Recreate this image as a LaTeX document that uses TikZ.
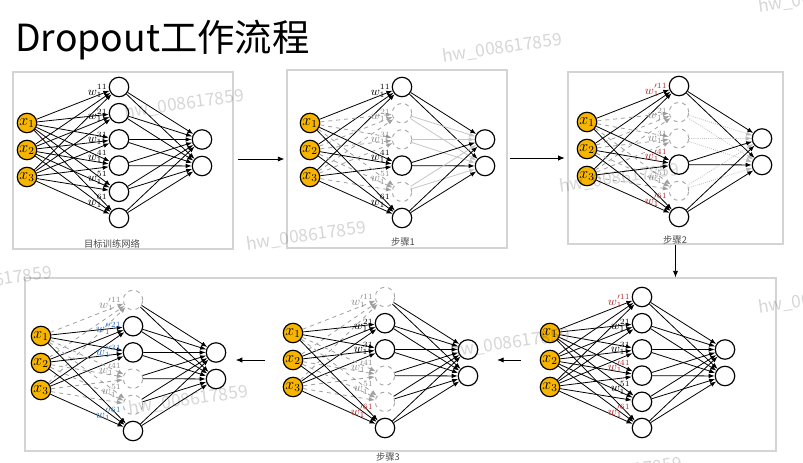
\documentclass[tikz,border=0pt]{standalone}
\usepackage{fontspec}
\newfontfamily\cjk{Noto Sans CJK SC}
\usetikzlibrary{arrows.meta,calc,fit}
\definecolor{Gold}{HTML}{F7B500}
\definecolor{WRed}{HTML}{B22A2A}
\definecolor{WBlue}{HTML}{2B73B8}
\definecolor{WGray}{HTML}{8C8C8C}
\definecolor{Frame}{HTML}{D4D4D4}

\tikzset{
  unit/.style={circle,draw,line width=0.9pt,minimum size=14.6pt,inner sep=0pt,fill=white},
  inp/.style={unit,fill=Gold},
  hid/.style={unit},
  outp/.style={unit},
  h live/.style={},
  h drop/.style={draw=gray!70,dashed,line width=0.7pt},
  h fade/.style={h drop},
  h mute/.style={h drop},
  wire/.style={line width=0.6pt,-{Latex[length=4.5pt,width=3.4pt]}},
  in live/.style={wire},
  in drop/.style={wire,gray!75,dashed},
  in fade/.style={in drop},
  in mute/.style={in drop},
  out live/.style={wire},
  out drop/.style={wire,gray!45},
  out fade/.style={wire,gray!55,densely dotted},
  out mute/.style={wire},
  wlab/.style={font=\small,inner sep=0pt,anchor=east},
  panel/.style={draw=Frame,line width=0.8pt,inner sep=0pt},
  flow/.style={line width=0.7pt,-{Latex[length=5pt,width=4pt]}},
  steptext/.style={font=\cjk\fontsize{7}{8}\selectfont,text=black!70,inner sep=0pt},
  wmark/.style={font=\cjk\fontsize{13}{13}\selectfont,text=black,text opacity=0.16,rotate=8,inner sep=0pt}
}

% #1 name, #2 hidden x, #3 top hidden y, #4 hidden states, #5 weight labels
\newcommand{\netpanel}[5]{%
  \foreach \j/\s in {#4}
    \node[hid,h \s] (#1h\j) at (#2,{#3+26.2*(\j-1)}) {};
  \foreach \i/\dy in {1/36,2/63,3/90}
    \node[inp,label={[font=\large]center:$x_\i$}] (#1x\i) at (#2-92,#3+\dy) {};
  \foreach \k/\dy in {1/52.5,2/79}
    \node[outp] (#1o\k) at (#2+83,#3+\dy) {};
  \foreach \j/\s in {#4}{
    \foreach \i in {1,2,3} \draw[in \s] (#1x\i) -- (#1h\j);
    \foreach \k in {1,2} \draw[out \s] (#1h\j) -- (#1o\k);
  }
  \foreach \j/\t/\c in {#5}{
    \pgfmathsetmacro\dy{{4,2,-1,-9,-14,-17}[\j-1]}
    \node[wlab,text=\c] (#1w\j) at ($(#1h\j.west)+(-1,\dy)$) {$\t$};
  }
}

\begin{document}
\begin{tikzpicture}[x=0.75pt,y=-0.75pt]
\useasboundingbox (0,0) rectangle (803,463);
\clip (0,0) rectangle (803,463);
\fill[white] (0,0) rectangle (803,463);

\node[anchor=base west,font=\cjk\fontsize{28}{30}\selectfont,inner sep=0pt] (title) at (15,52) {Dropout工作流程};

% frames
\node[panel,fit={(13,72) (233,249)}] (b1) {};
\node[panel,fit={(287,70) (507,248)}] (b2) {};
\node[panel,fit={(568,72) (783,244)}] (b3) {};
\node[panel,fit={(25,278) (776,451)}] (b4) {};

% target network
\netpanel{p1}{119}{87}{1/live,2/live,3/live,4/live,5/live,6/live}
  {1/w^{11}_1/black,2/w^{21}_1/black,3/w^{31}_1/black,4/w^{41}_1/black,5/w^{51}_1/black,6/w^{61}_1/black}
\node[steptext] (s0) at (112,244) {目标训练网络};

% step 1
\netpanel{p2}{402}{87}{1/live,2/drop,3/drop,4/live,5/drop,6/live}
  {1/w^{11}_1/black,2/w^{21}_1/WGray,3/w^{31}_1/WGray,4/w^{41}_1/black,5/w^{51}_1/WGray,6/w^{61}_1/black}
\node[steptext] (s1) at (403,242) {步骤1};

% step 2
\netpanel{p3}{679}{86}{1/live,2/fade,3/fade,4/live,5/fade,6/live}
  {1/w'^{11}_1/WRed,2/w^{21}_1/WGray,3/w^{31}_1/WGray,4/w'^{41}_1/WRed,5/w^{51}_1/WGray,6/w'^{61}_1/WRed}
\node[steptext] (s2) at (675,240) {步骤2};

% step 3
\netpanel{p4}{642}{297}{1/live,2/live,3/live,4/live,5/live,6/live}
  {1/w'^{11}_1/WRed,2/w^{21}_1/black,3/w^{31}_1/black,4/w'^{41}_1/WRed,5/w^{51}_1/black,6/w'^{61}_1/WRed}
\netpanel{p5}{385}{297}{1/mute,2/live,3/live,4/mute,5/mute,6/live}
  {1/w'^{11}_1/WGray,2/w^{21}_1/black,3/w^{31}_1/black,4/w'^{41}_1/WGray,5/w^{51}_1/WGray,6/w'^{61}_1/WRed}
\netpanel{p6}{133}{300}{1/mute,2/live,3/live,4/mute,5/mute,6/live}
  {1/w'^{11}_1/WGray,2/w''^{21}_1/WBlue,3/w''^{31}_1/WBlue,4/w'^{41}_1/WGray,5/w^{51}_1/WGray,6/w''^{61}_1/WBlue}
\node[steptext] (s3) at (388,457) {步骤3};

% flow between steps
\draw[flow,shorten <=3pt,shorten >=1.5pt] (b1.east |- b2.west) -- (b2.west);
\draw[flow,shorten <=1.5pt,shorten >=2pt] (b2.east |- b3.west) -- (b3.west);
\draw[flow] (b3.south) -- (b3.south |- b4.north);
\draw[flow,shorten <=14pt,shorten >=14pt] (p4x2.west) -- (p5o1.east |- p4x2.west);
\draw[flow,shorten <=13pt,shorten >=7pt] (p5x2.west) -- (p6o1.east |- p5x2.west);

% watermarks
\foreach \x/\y [count=\n] in {502/48,184/104,306/236,619/178,-8/281,188/400,510/343,818/299,818/-2,622/472}
  \node[wmark] (wm\n) at (\x,\y) {hw\_008617859};
\end{tikzpicture}
\end{document}
